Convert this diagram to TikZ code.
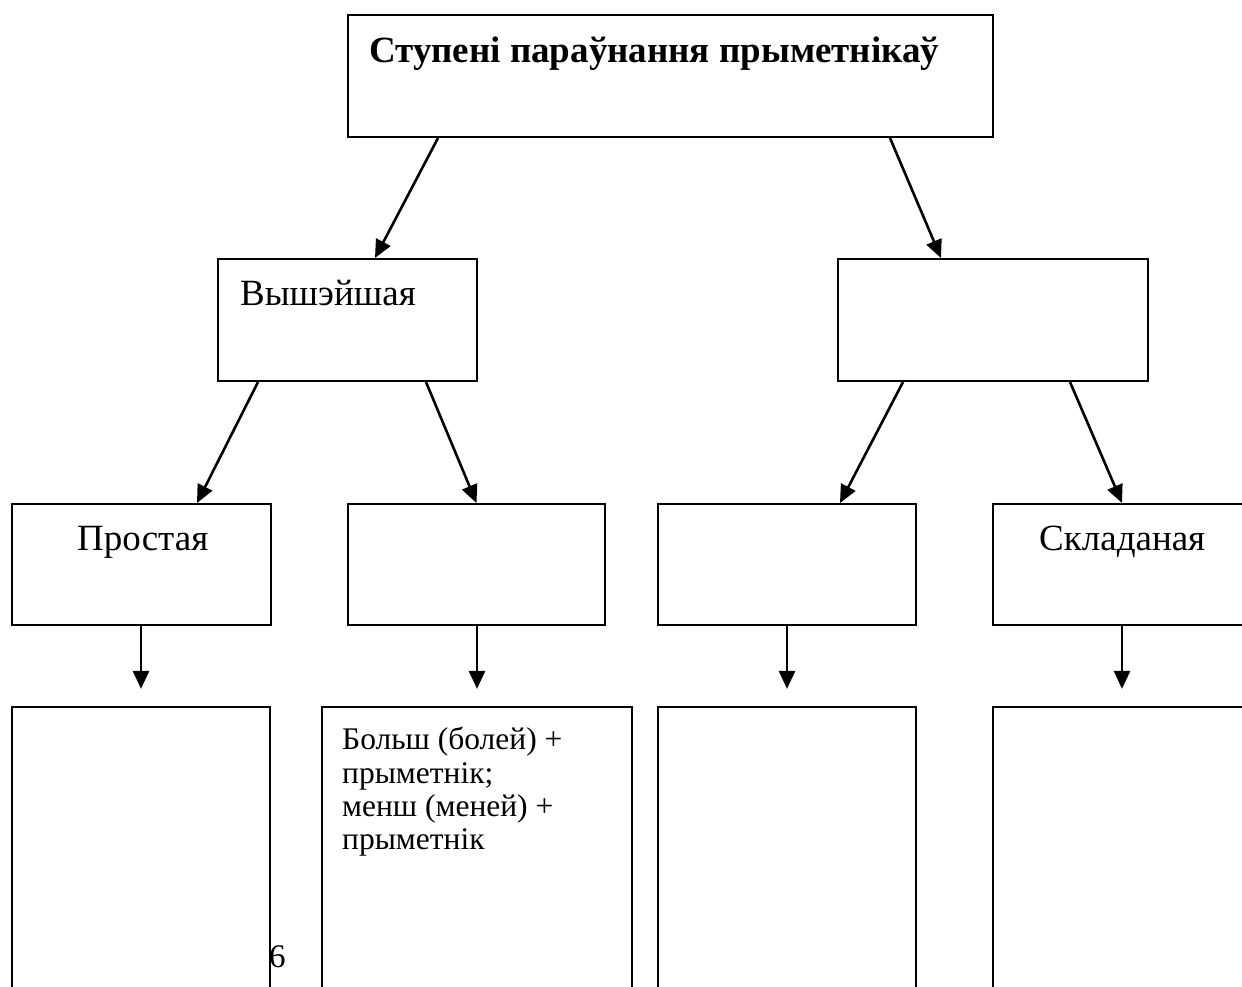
\documentclass[tikz,border=0pt]{standalone}
\usepackage{fontspec}
\setmainfont{Liberation Serif}
\usetikzlibrary{arrows.meta}
\begin{document}
\begin{tikzpicture}[x=1pt,y=1pt,
  box/.style={draw=black,line width=2pt,rectangle,inner sep=0pt,fill=none},
  conn/.style={line width=2.6pt,-{Triangle[length=18pt,width=16pt]}},
  big/.style={inner sep=0pt,anchor=base west,font=\fontsize{37}{42}\selectfont},
  small/.style={inner sep=0pt,anchor=north west,font=\fontsize{31.5}{33.3}\selectfont,align=left}]
\useasboundingbox (0,0) rectangle (1242,-986);
\clip (0,0) rectangle (1242,-986);
% boxes
\node[box,minimum width=645pt,minimum height=122pt] (top) at (670.5,-76) {};
\node[box,minimum width=259pt,minimum height=122pt] (high) at (347.5,-320) {};
\node[box,minimum width=310pt,minimum height=122pt] (mid) at (993,-320) {};
\node[box,minimum width=259pt,minimum height=121pt] (ra) at (141.5,-564.5) {};
\node[box,minimum width=257pt,minimum height=121pt] (rb) at (476.5,-564.5) {};
\node[box,minimum width=258pt,minimum height=121pt] (rc) at (787,-564.5) {};
\node[box,minimum width=258pt,minimum height=121pt] (rd) at (1122,-564.5) {};
\node[box,line width=2.2pt,minimum width=258pt,minimum height=293pt] (qa) at (141,-853.5) {};
\node[box,line width=2.2pt,minimum width=310pt,minimum height=293pt] (qb) at (477,-853.5) {};
\node[box,line width=2.2pt,minimum width=258pt,minimum height=293pt] (qc) at (787,-853.5) {};
\node[box,line width=2.2pt,minimum width=258pt,minimum height=293pt] (qd) at (1122,-853.5) {};
% texts
\node[big,font=\fontsize{37}{42}\selectfont\bfseries] (ttl) at (369,-62) {Ступені параўнання прыметнікаў};
\node[big] (thigh) at (240,-305) {Вышэйшая};
\node[big] (tra) at (77,-550) {Простая};
\node[big] (trd) at (1039,-550) {Складаная};
\node[small] (tqb) at (342,-727) {Больш (болей) +\\прыметнік;\\менш (меней) +\\прыметнік};
\node[big,font=\fontsize{33}{36}\selectfont] (pg) at (269,-967) {6};
% connectors
\draw[conn] ([xshift=-232.5pt]top.south) -- ([xshift=27.5pt]high.north);
\draw[conn] ([xshift=219.5pt]top.south) -- ([xshift=-52pt]mid.north);
\draw[conn] ([xshift=-89.5pt]high.south) -- ([xshift=55.5pt]ra.north);
\draw[conn] ([xshift=78.5pt]high.south) -- (rb.north);
\draw[conn] ([xshift=-90pt]mid.south) -- ([xshift=53pt]rc.north);
\draw[conn] ([xshift=77pt]mid.south) -- (rd.north);
\draw[conn] (ra.south -| qa.north) -- ([yshift=17pt]qa.north);
\draw[conn] (rb.south -| qb.north) -- ([yshift=17pt]qb.north);
\draw[conn] (rc.south -| qc.north) -- ([yshift=17pt]qc.north);
\draw[conn] (rd.south -| qd.north) -- ([yshift=17pt]qd.north);
\end{tikzpicture}
\end{document}
